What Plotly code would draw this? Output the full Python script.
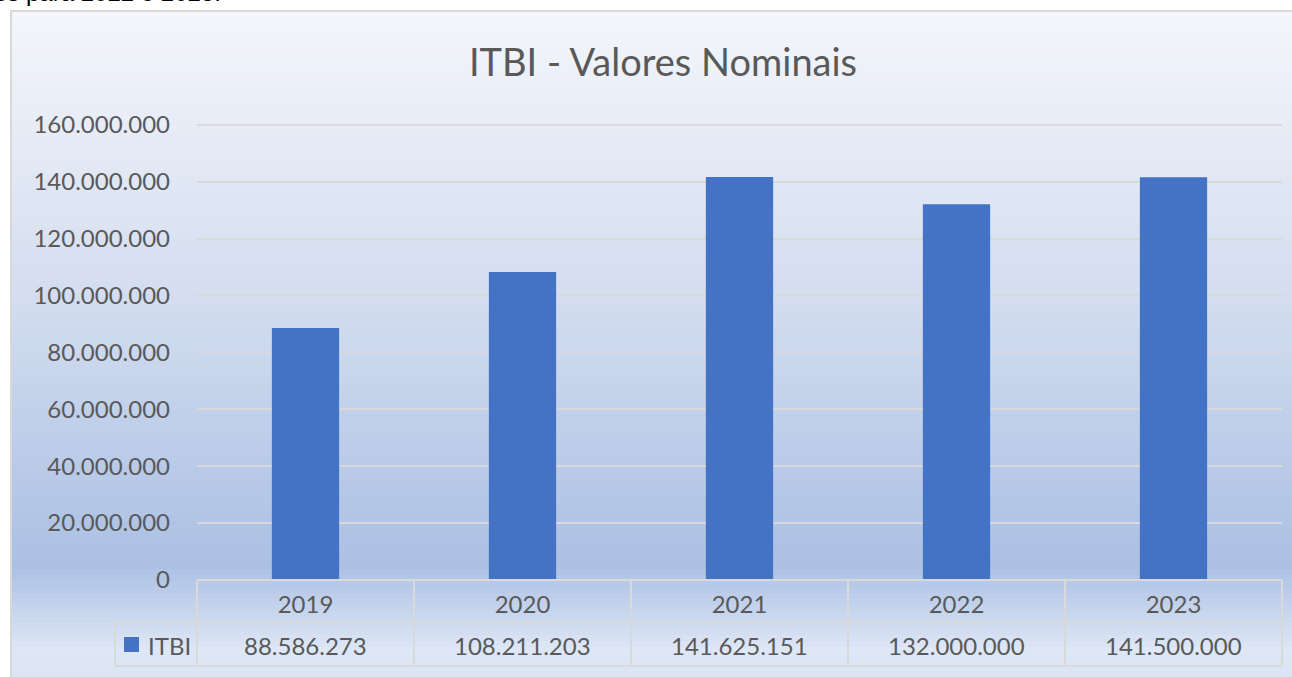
import plotly.graph_objects as go

years = ["2019", "2020", "2021", "2022", "2023"]
itbi = [88586273, 108211203, 141625151, 132000000, 141500000]
series_name = "ITBI"
title_text = "ITBI - Valores Nominais"
y_ticks = [0, 20000000, 40000000, 60000000, 80000000, 100000000, 120000000, 140000000, 160000000]
y_max = 162000000

W, H = 1292, 677
PX_PER_UNIT = 455 / 160000000
L, R, B = 197, 10, 97
T = round(125 - (y_max - 160000000) * PX_PER_UNIT)
PW, PH = W - L - R, H - T - B
TXT = "#595959"
GRID = "#d9d9d9"
BAR = "#4472c4"
FONT = "Lato"
FS = 24


def px_x(p):
    return (p - L) / PW


def px_y(p):
    return (H - B - p) / PH


def fmt(v):
    return f"{v:,}".replace(",", ".")


n = len(years)
fig = go.Figure()
fig.add_trace(go.Bar(x=years, y=itbi, name=series_name, marker=dict(color=BAR, line=dict(width=0)),
                     showlegend=False, hoverinfo="x+y"))

shapes = []
# gradient background (strips)
stops = [(10, (0xf4, 0xf6, 0xfb)), (300, (0xd3, 0xdd, 0xef)), (565, (0xab, 0xc0, 0xe4)),
         (650, (0xde, 0xe7, 0xf5)), (690, (0xd8, 0xe2, 0xf2))]


def col_at(p):
    for (a, ca), (b, cb) in zip(stops[:-1], stops[1:]):
        if a <= p <= b:
            t = (p - a) / (b - a)
            c = [round(ca[i] + (cb[i] - ca[i]) * t) for i in range(3)]
            return "rgb(%d,%d,%d)" % tuple(c)
    return "rgb(%d,%d,%d)" % stops[-1][1]


p = 11
step = 6
while p < 690:
    shapes.append(dict(type="rect", xref="paper", yref="paper", layer="below",
                       x0=px_x(11), x1=px_x(1300), y0=px_y(p + step + 1), y1=px_y(p),
                       fillcolor=col_at(p + step / 2), line=dict(width=0)))
    p += step

# outer frame
shapes.append(dict(type="rect", xref="paper", yref="paper", layer="below",
                   x0=px_x(11), x1=px_x(1310), y0=px_y(700), y1=px_y(11),
                   fillcolor="rgba(0,0,0,0)", line=dict(color=GRID, width=2)))

# data table lines
line = dict(color=GRID, width=2)
rows_y = [580, 622, 666]
for i, yy in enumerate(rows_y):
    x0 = 197 if i == 0 else 115
    shapes.append(dict(type="line", xref="paper", yref="paper", x0=px_x(x0), x1=1,
                       y0=px_y(yy), y1=px_y(yy), line=line))
for k in range(n + 1):
    shapes.append(dict(type="line", xref="paper", yref="paper", x0=k / n, x1=k / n,
                       y0=px_y(580), y1=px_y(666), line=line))
shapes.append(dict(type="line", xref="paper", yref="paper", x0=px_x(115), x1=px_x(115),
                   y0=px_y(622), y1=px_y(666), line=line))
# legend key
shapes.append(dict(type="rect", xref="paper", yref="paper", x0=px_x(124), x1=px_x(139),
                   y0=px_y(652), y1=px_y(637), fillcolor=BAR, line=dict(width=0)))

annotations = []
for k, v in enumerate(itbi):
    annotations.append(dict(x=(k + 0.5) / n, xref="paper", y=px_y(645), yref="paper", text=fmt(v),
                            showarrow=False, xanchor="center", yanchor="middle",
                            font=dict(family=FONT, size=FS, color=TXT)))
annotations.append(dict(x=px_x(146), xref="paper", y=px_y(645), yref="paper", text=series_name,
                        showarrow=False, xanchor="left", yanchor="middle",
                        font=dict(family=FONT, size=FS, color=TXT)))
annotations.append(dict(x=px_x(-8), xref="paper", y=px_y(-7), yref="paper", text="es para 2022 e 2023.",
                        showarrow=False, xanchor="left", yanchor="middle",
                        font=dict(family="Liberation Sans", size=24, color="#000000")))

fig.update_layout(
    width=W, height=H,
    margin=dict(l=L, r=R, t=T, b=B, pad=0),
    paper_bgcolor="white",
    plot_bgcolor="rgba(0,0,0,0)",
    separators=",.",
    bargap=0.69,
    title=dict(text=title_text, x=663 / W, xref="container", xanchor="center",
               y=1 - 63 / H, yref="container", yanchor="middle",
               font=dict(family=FONT, size=38, color=TXT)),
    xaxis=dict(type="category", range=[-0.5, n - 0.5], showline=False, showgrid=False, ticks="",
               zeroline=False, tickfont=dict(family=FONT, size=FS, color=TXT), ticklabelstandoff=8),
    yaxis=dict(range=[0, y_max], tickvals=y_ticks, tickformat=",d", showgrid=True,
               gridcolor=GRID, gridwidth=2, zeroline=False, showline=False, ticks="",
               tickfont=dict(family=FONT, size=FS, color=TXT), ticklabelstandoff=26),
    shapes=shapes,
    annotations=annotations,
    font=dict(family=FONT, color=TXT),
)

fig.write_html("out.html", config={"displayModeBar": False},
               post_script="document.body.style.margin='0';document.body.style.padding='0';")
